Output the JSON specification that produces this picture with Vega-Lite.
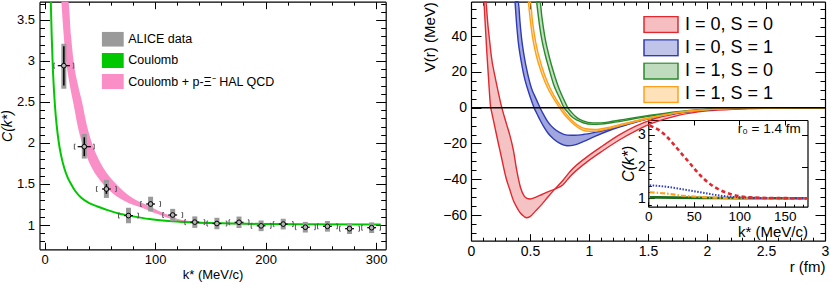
{
  "$schema": "https://vega.github.io/schema/vega-lite/v6.json",
  "width": 830,
  "height": 285,
  "padding": 0,
  "autosize": {"type": "none"},
  "background": "white",
  "config": {
    "view": {"stroke": null},
    "font": "Liberation Sans",
    "axis": {"grid": false, "domainColor": "#000", "domainWidth": 1.2, "tickColor": "#000", "tickWidth": 1, "labelColor": "#000", "titleColor": "#000", "titleFontWeight": "normal", "labelOverlap": false, "labelFlush": false, "labelBound": false, "zindex": 1, "labelFont": "Liberation Sans", "titleFont": "Liberation Sans"},
    "legend": {"labelFont": "Liberation Sans", "labelColor": "#000"}
  },
  "datasets": {
    "pink": [
      {"k": 15.3, "lo": 3.72, "hi": 3.723}, {"k": 17, "lo": 3.38, "hi": 3.723}, {"k": 19.5, "lo": 3.0, "hi": 3.723},
      {"k": 21.6, "lo": 2.806, "hi": 3.72}, {"k": 24, "lo": 2.625, "hi": 3.307}, {"k": 26.3, "lo": 2.474, "hi": 3.0},
      {"k": 30, "lo": 2.208, "hi": 2.726}, {"k": 34, "lo": 2.0, "hi": 2.5}, {"k": 38, "lo": 1.841, "hi": 2.236},
      {"k": 42.9, "lo": 1.696, "hi": 2.0}, {"k": 48, "lo": 1.584, "hi": 1.828}, {"k": 53, "lo": 1.5, "hi": 1.701},
      {"k": 58, "lo": 1.429, "hi": 1.603}, {"k": 64.8, "lo": 1.354, "hi": 1.5}, {"k": 72, "lo": 1.296, "hi": 1.405},
      {"k": 80, "lo": 1.247, "hi": 1.327}, {"k": 88, "lo": 1.21, "hi": 1.27}, {"k": 96, "lo": 1.165, "hi": 1.22},
      {"k": 103, "lo": 1.13, "hi": 1.175}, {"k": 110, "lo": 1.095, "hi": 1.135}, {"k": 123.5, "lo": 1.04, "hi": 1.065},
      {"k": 140, "lo": 1.02, "hi": 1.04}, {"k": 170, "lo": 1.01, "hi": 1.022}, {"k": 200, "lo": 1.005, "hi": 1.014},
      {"k": 250, "lo": 1.002, "hi": 1.009}, {"k": 304.2, "lo": 1.0, "hi": 1.006}
    ],
    "coul": [
      {"k": 5.7, "C": 3.72}, {"k": 6.5, "C": 3.31}, {"k": 7.5, "C": 2.93}, {"k": 8.5, "C": 2.66}, {"k": 9.5, "C": 2.445},
      {"k": 11, "C": 2.217}, {"k": 13, "C": 2.0}, {"k": 15, "C": 1.849}, {"k": 18, "C": 1.69}, {"k": 21, "C": 1.579},
      {"k": 24, "C": 1.5}, {"k": 28, "C": 1.411}, {"k": 33, "C": 1.335}, {"k": 40, "C": 1.271}, {"k": 48, "C": 1.226},
      {"k": 57, "C": 1.182}, {"k": 67, "C": 1.14}, {"k": 80, "C": 1.105}, {"k": 95, "C": 1.072}, {"k": 112, "C": 1.049},
      {"k": 130, "C": 1.034}, {"k": 150, "C": 1.024}, {"k": 175, "C": 1.017}, {"k": 200, "C": 1.012}, {"k": 240, "C": 1.008},
      {"k": 304.2, "C": 1.005}
    ],
    "alice": [
      {"k": 17.5, "C": 2.943, "slo": 2.70, "shi": 3.18, "ylo": 2.66, "yhi": 3.21, "xlo": 12, "xhi": 23, "blo": 8.5, "bhi": 26.5},
      {"k": 36, "C": 1.955, "slo": 1.84, "shi": 2.07, "ylo": 1.81, "yhi": 2.11, "xlo": 30, "xhi": 42, "blo": 27, "bhi": 45},
      {"k": 56, "C": 1.439, "slo": 1.38, "shi": 1.50, "ylo": 1.33, "yhi": 1.55, "xlo": 52, "xhi": 60, "blo": 47, "bhi": 65},
      {"k": 76, "C": 1.115, "slo": 1.085, "shi": 1.145, "ylo": 1.02, "yhi": 1.21, "xlo": 72, "xhi": 80, "blo": 67, "bhi": 85},
      {"k": 96, "C": 1.256, "slo": 1.225, "shi": 1.287, "ylo": 1.165, "yhi": 1.345, "xlo": 92, "xhi": 100, "blo": 87, "bhi": 105},
      {"k": 116, "C": 1.122, "slo": 1.097, "shi": 1.147, "ylo": 1.047, "yhi": 1.197, "xlo": 112, "xhi": 120, "blo": 107, "bhi": 125},
      {"k": 136, "C": 1.035, "slo": 1.015, "shi": 1.055, "ylo": 0.965, "yhi": 1.105, "xlo": 132, "xhi": 140, "blo": 127, "bhi": 145},
      {"k": 156, "C": 1.018, "slo": 1.0, "shi": 1.036, "ylo": 0.948, "yhi": 1.088, "xlo": 152, "xhi": 160, "blo": 147, "bhi": 165},
      {"k": 176, "C": 1.033, "slo": 1.015, "shi": 1.051, "ylo": 0.963, "yhi": 1.103, "xlo": 172, "xhi": 180, "blo": 167, "bhi": 185},
      {"k": 196, "C": 0.99, "slo": 0.975, "shi": 1.005, "ylo": 0.925, "yhi": 1.055, "xlo": 192, "xhi": 200, "blo": 187, "bhi": 205},
      {"k": 216, "C": 1.011, "slo": 0.996, "shi": 1.026, "ylo": 0.946, "yhi": 1.076, "xlo": 212, "xhi": 220, "blo": 207, "bhi": 225},
      {"k": 236, "C": 0.973, "slo": 0.958, "shi": 0.988, "ylo": 0.908, "yhi": 1.038, "xlo": 232, "xhi": 240, "blo": 227, "bhi": 245},
      {"k": 256, "C": 0.984, "slo": 0.969, "shi": 0.999, "ylo": 0.919, "yhi": 1.049, "xlo": 252, "xhi": 260, "blo": 247, "bhi": 265},
      {"k": 276, "C": 0.955, "slo": 0.94, "shi": 0.97, "ylo": 0.89, "yhi": 1.02, "xlo": 272, "xhi": 280, "blo": 267, "bhi": 285},
      {"k": 296, "C": 0.967, "slo": 0.952, "shi": 0.982, "ylo": 0.902, "yhi": 1.032, "xlo": 292, "xhi": 300, "blo": 287, "bhi": 304}
    ],
    "red": [
      {"r": 0.110, "a": 59.2, "b": 59.2}, {"r": 0.122, "a": 45, "b": 59.2}, {"r": 0.127, "a": 39.2, "b": 59.2},
      {"r": 0.135, "a": 30, "b": 52.9}, {"r": 0.145, "a": 20, "b": 45}, {"r": 0.15, "a": 15, "b": 42},
      {"r": 0.167, "a": 0, "b": 31.8}, {"r": 0.17, "a": -0.9, "b": 30}, {"r": 0.205, "a": -11.7, "b": 16.9},
      {"r": 0.232, "a": -20, "b": 8.4}, {"r": 0.251, "a": -25.6, "b": 2.7}, {"r": 0.30, "a": -40, "b": -8.9},
      {"r": 0.325, "a": -45, "b": -14.4}, {"r": 0.36, "a": -52, "b": -24}, {"r": 0.387, "a": -55.5, "b": -34.8},
      {"r": 0.42, "a": -59, "b": -44.7}, {"r": 0.45, "a": -60.8, "b": -49.2}, {"r": 0.47, "a": -61.5, "b": -50.5},
      {"r": 0.5, "a": -60.8, "b": -51}, {"r": 0.55, "a": -57.5, "b": -50}, {"r": 0.6, "a": -54, "b": -48.5},
      {"r": 0.65, "a": -50, "b": -47}, {"r": 0.71, "a": -45.5, "b": -45.5}, {"r": 0.78, "a": -40.5, "b": -43},
      {"r": 0.84, "a": -35.6, "b": -38.4}, {"r": 0.98, "a": -27.6, "b": -30.4}, {"r": 1.12, "a": -21.1, "b": -23.9},
      {"r": 1.26, "a": -15.1, "b": -17.9}, {"r": 1.40, "a": -10.2, "b": -12.8}, {"r": 1.52, "a": -6.9, "b": -9.1},
      {"r": 1.75, "a": -3.2, "b": -4.4}, {"r": 2.0, "a": -1.2, "b": -1.8}, {"r": 2.25, "a": -0.45, "b": -0.75},
      {"r": 2.5, "a": -0.15, "b": -0.3}, {"r": 3.0, "a": 0, "b": 0}
    ],
    "blue": [
      {"r": 0.373, "a": 59.2, "b": 59.2}, {"r": 0.385, "a": 48, "b": 59.2}, {"r": 0.401, "a": 36.5, "b": 59.2},
      {"r": 0.415, "a": 29.9, "b": 48}, {"r": 0.43, "a": 24.2, "b": 38}, {"r": 0.45, "a": 17.5, "b": 29},
      {"r": 0.48, "a": 10.4, "b": 19}, {"r": 0.52, "a": 2.5, "b": 9.5}, {"r": 0.534, "a": 0, "b": 7.45},
      {"r": 0.56, "a": -3.5, "b": 3.65}, {"r": 0.585, "a": -6.9, "b": 0}, {"r": 0.62, "a": -11, "b": -4.4},
      {"r": 0.65, "a": -14, "b": -7.75}, {"r": 0.7, "a": -17.5, "b": -11.5}, {"r": 0.75, "a": -19.8, "b": -13.8},
      {"r": 0.816, "a": -21.3, "b": -15.3}, {"r": 0.88, "a": -20.8, "b": -15.4}, {"r": 0.95, "a": -19, "b": -15.0},
      {"r": 1.05, "a": -16, "b": -13.8}, {"r": 1.15, "a": -13.3, "b": -12.3}, {"r": 1.25, "a": -11, "b": -10.6},
      {"r": 1.4, "a": -8, "b": -7.8}, {"r": 1.52, "a": -6, "b": -5.9}, {"r": 1.75, "a": -3, "b": -2.9},
      {"r": 2.0, "a": -1.2, "b": -1.15}, {"r": 2.25, "a": -0.5, "b": -0.45}, {"r": 2.5, "a": -0.2, "b": -0.18},
      {"r": 3.0, "a": 0, "b": 0}
    ],
    "org": [
      {"r": 0.486, "a": 59.2, "b": 59.2}, {"r": 0.504, "a": 48, "b": 59.2}, {"r": 0.52, "a": 40, "b": 48.8},
      {"r": 0.55, "a": 30, "b": 36}, {"r": 0.6, "a": 19, "b": 23}, {"r": 0.65, "a": 11, "b": 13.9},
      {"r": 0.7, "a": 5, "b": 7.2}, {"r": 0.75, "a": 0, "b": 1.8}, {"r": 0.8, "a": -4.5, "b": -2.9},
      {"r": 0.85, "a": -8, "b": -6.7}, {"r": 0.9, "a": -10.8, "b": -9.6}, {"r": 0.97, "a": -13, "b": -11.8},
      {"r": 1.05, "a": -13.2, "b": -12.2}, {"r": 1.15, "a": -12, "b": -11.2}, {"r": 1.25, "a": -10.3, "b": -9.6},
      {"r": 1.4, "a": -7.7, "b": -7.2}, {"r": 1.52, "a": -5.9, "b": -5.5}, {"r": 1.75, "a": -2.9, "b": -2.7},
      {"r": 2.0, "a": -1.15, "b": -1.05}, {"r": 2.25, "a": -0.45, "b": -0.4}, {"r": 2.5, "a": -0.18, "b": -0.15},
      {"r": 3.0, "a": 0, "b": 0}
    ],
    "grn": [
      {"r": 0.556, "a": 59.2, "b": 59.2}, {"r": 0.585, "a": 44, "b": 59.2}, {"r": 0.6, "a": 38, "b": 51},
      {"r": 0.627, "a": 30, "b": 39.2}, {"r": 0.66, "a": 22, "b": 29.3}, {"r": 0.7, "a": 13, "b": 19.8},
      {"r": 0.75, "a": 5.5, "b": 10}, {"r": 0.788, "a": 0, "b": 4.4}, {"r": 0.82, "a": -2.5, "b": 0},
      {"r": 0.85, "a": -4.8, "b": -2.5}, {"r": 0.9, "a": -7, "b": -5.7}, {"r": 0.95, "a": -8.4, "b": -7.4},
      {"r": 1.03, "a": -9.3, "b": -8.5}, {"r": 1.1, "a": -9.2, "b": -8.5}, {"r": 1.2, "a": -8.3, "b": -7.6},
      {"r": 1.3, "a": -7.2, "b": -6.5}, {"r": 1.4, "a": -6, "b": -5.4}, {"r": 1.52, "a": -4.7, "b": -4.2},
      {"r": 1.75, "a": -2.5, "b": -2.2}, {"r": 2.0, "a": -1.0, "b": -0.85}, {"r": 2.25, "a": -0.4, "b": -0.35},
      {"r": 2.5, "a": -0.15, "b": -0.12}, {"r": 3.0, "a": 0, "b": 0}
    ],
    "ired": [
      {"k": 1.5, "C": 3.29}, {"k": 12.9, "C": 3.13}, {"k": 23.8, "C": 2.84}, {"k": 34.8, "C": 2.47}, {"k": 45.8, "C": 2.10},
      {"k": 56.8, "C": 1.735}, {"k": 67.8, "C": 1.45}, {"k": 78.8, "C": 1.26}, {"k": 89.8, "C": 1.135}, {"k": 100.8, "C": 1.06},
      {"k": 111.8, "C": 1.03}, {"k": 125, "C": 1.015}, {"k": 150, "C": 1.005}, {"k": 175, "C": 1.0}
    ],
    "iblue": [
      {"k": 1.5, "C": 1.41}, {"k": 15, "C": 1.38}, {"k": 27.5, "C": 1.335}, {"k": 40, "C": 1.275}, {"k": 53, "C": 1.21},
      {"k": 65, "C": 1.15}, {"k": 75, "C": 1.10}, {"k": 88, "C": 1.055}, {"k": 100.8, "C": 1.03}, {"k": 125, "C": 1.01},
      {"k": 150, "C": 1.005}, {"k": 175, "C": 1.0}
    ],
    "iorg": [
      {"k": 1.5, "C": 1.19}, {"k": 20, "C": 1.15}, {"k": 38.5, "C": 1.08}, {"k": 55, "C": 1.045}, {"k": 75, "C": 1.02},
      {"k": 100, "C": 1.008}, {"k": 140, "C": 1.002}, {"k": 175, "C": 1.0}
    ],
    "igrn": [
      {"k": 1.5, "C": 1.03}, {"k": 30, "C": 1.022}, {"k": 60, "C": 1.012}, {"k": 100, "C": 1.004}, {"k": 175, "C": 1.0}
    ]
  },
  "layer": [
    {
      "layer": [
        {
          "data": {"name": "pink"},
          "mark": {"type": "area", "interpolate": "monotone", "opacity": 1},
          "encoding": {
            "x": {"field": "k", "type": "quantitative", "scale": {"domain": [0, 304.2], "range": [39.5, 385.7], "nice": false, "zero": false},
                  "axis": {"orient": "bottom", "offset": -35.7, "values": [0, 100, 200, 300], "format": "~f", "tickSize": -7, "labelPadding": 11.5, "labelFontSize": 13, "title": "k* (MeV/c)", "titleFontSize": 13, "titlePadding": 2}},
            "y": {"field": "lo", "type": "quantitative", "scale": {"domain": [0.7037, 3.723], "range": [249.3, 1.7], "nice": false, "zero": false, "clamp": true},
                  "axis": {"orient": "left", "offset": -39.5, "values": [1, 1.5, 2, 2.5, 3, 3.5], "format": "~f", "tickSize": -10, "labelPadding": 15, "labelFontSize": 13, "title": "C(k*)", "titleFontSize": 14, "titleFontStyle": "italic", "titlePadding": 2}},
            "y2": {"field": "hi"},
            "color": {"datum": "Coulomb + p-Ξ⁻ HAL QCD", "type": "nominal",
                      "scale": {"domain": ["ALICE data", "Coulomb", "Coulomb + p-Ξ⁻ HAL QCD"], "range": ["#9a9a9a", "#00c800", "#fa8ec6"]},
                      "legend": {"orient": "none", "legendX": 101.7, "legendY": 31.7, "title": null, "symbolType": "M-1,-0.68H1V0.68H-1Z", "symbolSize": 484, "symbolStrokeWidth": 0, "clipHeight": 15, "labelFontSize": 12.5, "labelOffset": 4.5, "rowPadding": 6.2, "padding": 0, "labelLimit": 300}}
          }
        },
        {
          "data": {"name": "coul"},
          "mark": {"type": "line", "interpolate": "monotone", "strokeWidth": 2},
          "encoding": {
            "x": {"field": "k", "type": "quantitative", "scale": {"domain": [0, 304.2], "range": [39.5, 385.7], "nice": false, "zero": false},
                  "axis": {"orient": "top", "offset": -1.7, "values": [0, 100, 200, 300], "tickSize": -7, "labels": false, "title": null}},
            "y": {"field": "C", "type": "quantitative", "scale": {"domain": [0.7037, 3.723], "range": [249.3, 1.7], "nice": false, "zero": false, "clamp": true},
                  "axis": {"orient": "right", "offset": -444.3, "values": [1, 1.5, 2, 2.5, 3, 3.5], "tickSize": -10, "labels": false, "title": null}},
            "color": {"datum": "Coulomb", "type": "nominal", "scale": {"domain": ["ALICE data", "Coulomb", "Coulomb + p-Ξ⁻ HAL QCD"], "range": ["#9a9a9a", "#00c800", "#fa8ec6"]}}
          }
        },
        {
          "data": {"name": "alice"},
          "mark": {"type": "bar", "size": 5, "opacity": 1},
          "encoding": {
            "x": {"field": "k", "type": "quantitative", "scale": {"domain": [0, 304.2], "range": [39.5, 385.7], "nice": false, "zero": false},
                  "axis": {"orient": "bottom", "offset": -35.7, "values": [20, 40, 60, 80, 120, 140, 160, 180, 220, 240, 260, 280], "tickSize": -3.5, "labels": false, "domain": false, "title": null}},
            "y": {"field": "ylo", "type": "quantitative", "scale": {"domain": [0.7037, 3.723], "range": [249.3, 1.7], "nice": false, "zero": false, "clamp": true},
                  "axis": {"orient": "left", "offset": -39.5, "values": [0.8, 0.9, 1.1, 1.2, 1.3, 1.4, 1.6, 1.7, 1.8, 1.9, 2.1, 2.2, 2.3, 2.4, 2.6, 2.7, 2.8, 2.9, 3.1, 3.2, 3.3, 3.4, 3.6, 3.7], "tickSize": -5, "labels": false, "domain": false, "title": null}},
            "y2": {"field": "yhi"},
            "color": {"datum": "ALICE data", "type": "nominal", "scale": {"domain": ["ALICE data", "Coulomb", "Coulomb + p-Ξ⁻ HAL QCD"], "range": ["#9a9a9a", "#00c800", "#fa8ec6"]}}
          }
        },
        {
          "data": {"name": "alice"},
          "mark": {"type": "rule", "color": "#000", "strokeWidth": 1.5},
          "encoding": {
            "x": {"field": "k", "type": "quantitative", "scale": {"domain": [0, 304.2], "range": [39.5, 385.7], "nice": false, "zero": false},
                  "axis": {"orient": "top", "offset": -1.7, "values": [20, 40, 60, 80, 120, 140, 160, 180, 220, 240, 260, 280], "tickSize": -3.5, "labels": false, "domain": false, "title": null}},
            "y": {"field": "slo", "type": "quantitative", "scale": {"domain": [0.7037, 3.723], "range": [249.3, 1.7], "nice": false, "zero": false, "clamp": true},
                  "axis": {"orient": "right", "offset": -444.3, "values": [0.8, 0.9, 1.1, 1.2, 1.3, 1.4, 1.6, 1.7, 1.8, 1.9, 2.1, 2.2, 2.3, 2.4, 2.6, 2.7, 2.8, 2.9, 3.1, 3.2, 3.3, 3.4, 3.6, 3.7], "tickSize": -5, "labels": false, "domain": false, "title": null}},
            "y2": {"field": "shi"}
          }
        },
        {
          "data": {"name": "alice"},
          "mark": {"type": "rule", "color": "#000", "strokeWidth": 1.2},
          "encoding": {
            "x": {"field": "xlo", "type": "quantitative", "scale": {"domain": [0, 304.2], "range": [39.5, 385.7], "nice": false, "zero": false}, "axis": null},
            "x2": {"field": "xhi"},
            "y": {"field": "C", "type": "quantitative", "scale": {"domain": [0.7037, 3.723], "range": [249.3, 1.7], "nice": false, "zero": false, "clamp": true}, "axis": null}
          }
        },
        {
          "data": {"name": "alice"},
          "mark": {"type": "point", "shape": "M0.45,-1L0,-1L0,1L0.45,1", "filled": false, "stroke": "#555", "strokeWidth": 1, "size": 25, "opacity": 1},
          "encoding": {
            "x": {"field": "blo", "type": "quantitative", "scale": {"domain": [0, 304.2], "range": [39.5, 385.7], "nice": false, "zero": false}, "axis": null},
            "y": {"field": "C", "type": "quantitative", "scale": {"domain": [0.7037, 3.723], "range": [249.3, 1.7], "nice": false, "zero": false, "clamp": true}, "axis": null}
          }
        },
        {
          "data": {"name": "alice"},
          "mark": {"type": "point", "shape": "M-0.45,-1L0,-1L0,1L-0.45,1", "filled": false, "stroke": "#555", "strokeWidth": 1, "size": 25, "opacity": 1},
          "encoding": {
            "x": {"field": "bhi", "type": "quantitative", "scale": {"domain": [0, 304.2], "range": [39.5, 385.7], "nice": false, "zero": false}, "axis": null},
            "y": {"field": "C", "type": "quantitative", "scale": {"domain": [0.7037, 3.723], "range": [249.3, 1.7], "nice": false, "zero": false, "clamp": true}, "axis": null}
          }
        },
        {
          "data": {"name": "alice"},
          "mark": {"type": "point", "shape": "circle", "filled": true, "fill": "#b5b5b5", "stroke": "#000", "strokeWidth": 1, "size": 22, "opacity": 1},
          "encoding": {
            "x": {"field": "k", "type": "quantitative", "scale": {"domain": [0, 304.2], "range": [39.5, 385.7], "nice": false, "zero": false}, "axis": null},
            "y": {"field": "C", "type": "quantitative", "scale": {"domain": [0.7037, 3.723], "range": [249.3, 1.7], "nice": false, "zero": false, "clamp": true}, "axis": null}
          }
        }
      ],
      "resolve": {"scale": {"x": "shared", "y": "shared", "color": "shared"}, "axis": {"x": "independent", "y": "independent"}}
    },
    {
      "layer": [
        {
          "data": {"name": "red"},
          "mark": {"type": "area", "interpolate": "monotone", "fillOpacity": 0.28},
          "encoding": {
            "x": {"field": "r", "type": "quantitative", "scale": {"domain": [0, 3], "range": [471, 825], "nice": false, "zero": false},
                  "axis": {"orient": "bottom", "offset": -44.3, "values": [0, 0.5, 1, 1.5, 2, 2.5, 3], "format": "~f", "tickSize": -7, "labelPadding": 11, "labelFontSize": 14, "title": "r (fm)", "titleAnchor": "end", "titleFontSize": 15, "titlePadding": 1}},
            "y": {"field": "a", "type": "quantitative", "scale": {"domain": [-74.3, 59.2], "range": [240.7, 1.7], "nice": false, "zero": false, "clamp": true},
                  "axis": {"orient": "left", "offset": -471, "values": [-60, -40, -20, 0, 20, 40], "format": "~f", "tickSize": -10, "labelPadding": 14.5, "labelFontSize": 14, "title": "V(r) (MeV)", "titleAnchor": "end", "titleFontSize": 15, "titlePadding": 5}},
            "y2": {"field": "b"},
            "color": {"datum": "I = 0, S = 0", "type": "nominal",
                      "scale": {"domain": ["I = 0, S = 0", "I = 0, S = 1", "I = 1, S = 0", "I = 1, S = 1"], "range": ["#e0282e", "#2e3bb5", "#2a8a2a", "#ffa01a"]},
                      "legend": {"orient": "none", "legendX": 643, "legendY": 16, "title": null, "symbolType": "M-1,-0.47H1V0.47H-1Z", "symbolSize": 1156, "clipHeight": 17, "labelFontSize": 18, "labelOffset": 6, "rowPadding": 4.3, "padding": 0, "labelLimit": 300,
                                 "encoding": {"symbols": {"stroke": {"value": {"expr": "datum.value === 'I = 0, S = 0' ? '#e0282e' : datum.value === 'I = 0, S = 1' ? '#2e3bb5' : datum.value === 'I = 1, S = 0' ? '#2a8a2a' : '#ffa01a'"}}, "strokeWidth": {"value": 1.5}, "fillOpacity": {"value": 0.3}}}}}
          }
        },
        {
          "data": {"name": "blue"},
          "mark": {"type": "area", "interpolate": "monotone", "fillOpacity": 0.45},
          "encoding": {
            "x": {"field": "r", "type": "quantitative", "scale": {"domain": [0, 3], "range": [471, 825], "nice": false, "zero": false},
                  "axis": {"orient": "top", "offset": -1.7, "values": [0, 0.5, 1, 1.5, 2, 2.5, 3], "tickSize": -7, "labels": false, "title": null}},
            "y": {"field": "a", "type": "quantitative", "scale": {"domain": [-74.3, 59.2], "range": [240.7, 1.7], "nice": false, "zero": false, "clamp": true},
                  "axis": {"orient": "right", "offset": -5, "values": [-60, -40, -20, 0, 20, 40], "tickSize": -10, "labels": false, "title": null}},
            "y2": {"field": "b"},
            "color": {"datum": "I = 0, S = 1", "type": "nominal", "scale": {"domain": ["I = 0, S = 0", "I = 0, S = 1", "I = 1, S = 0", "I = 1, S = 1"], "range": ["#e0282e", "#2e3bb5", "#2a8a2a", "#ffa01a"]}}
          }
        },
        {
          "data": {"name": "grn"},
          "mark": {"type": "area", "interpolate": "monotone", "fillOpacity": 0.28},
          "encoding": {
            "x": {"field": "r", "type": "quantitative", "scale": {"domain": [0, 3], "range": [471, 825], "nice": false, "zero": false},
                  "axis": {"orient": "bottom", "offset": -44.3, "values": [0.1, 0.2, 0.3, 0.4, 0.6, 0.7, 0.8, 0.9, 1.1, 1.2, 1.3, 1.4, 1.6, 1.7, 1.8, 1.9, 2.1, 2.2, 2.3, 2.4, 2.6, 2.7, 2.8, 2.9], "tickSize": -3.5, "labels": false, "domain": false, "title": null}},
            "y": {"field": "a", "type": "quantitative", "scale": {"domain": [-74.3, 59.2], "range": [240.7, 1.7], "nice": false, "zero": false, "clamp": true},
                  "axis": {"orient": "left", "offset": -471, "values": [-70, -65, -55, -50, -45, -35, -30, -25, -15, -10, -5, 5, 10, 15, 25, 30, 35, 45, 50, 55], "tickSize": -5, "labels": false, "domain": false, "title": null}},
            "y2": {"field": "b"},
            "color": {"datum": "I = 1, S = 0", "type": "nominal", "scale": {"domain": ["I = 0, S = 0", "I = 0, S = 1", "I = 1, S = 0", "I = 1, S = 1"], "range": ["#e0282e", "#2e3bb5", "#2a8a2a", "#ffa01a"]}}
          }
        },
        {
          "data": {"name": "org"},
          "mark": {"type": "area", "interpolate": "monotone", "fillOpacity": 0.28},
          "encoding": {
            "x": {"field": "r", "type": "quantitative", "scale": {"domain": [0, 3], "range": [471, 825], "nice": false, "zero": false},
                  "axis": {"orient": "top", "offset": -1.7, "values": [0.1, 0.2, 0.3, 0.4, 0.6, 0.7, 0.8, 0.9, 1.1, 1.2, 1.3, 1.4, 1.6, 1.7, 1.8, 1.9, 2.1, 2.2, 2.3, 2.4, 2.6, 2.7, 2.8, 2.9], "tickSize": -3.5, "labels": false, "domain": false, "title": null}},
            "y": {"field": "a", "type": "quantitative", "scale": {"domain": [-74.3, 59.2], "range": [240.7, 1.7], "nice": false, "zero": false, "clamp": true},
                  "axis": {"orient": "right", "offset": -5, "values": [-70, -65, -55, -50, -45, -35, -30, -25, -15, -10, -5, 5, 10, 15, 25, 30, 35, 45, 50, 55], "tickSize": -5, "labels": false, "domain": false, "title": null}},
            "y2": {"field": "b"},
            "color": {"datum": "I = 1, S = 1", "type": "nominal", "scale": {"domain": ["I = 0, S = 0", "I = 0, S = 1", "I = 1, S = 0", "I = 1, S = 1"], "range": ["#e0282e", "#2e3bb5", "#2a8a2a", "#ffa01a"]}}
          }
        },
        {"data": {"name": "red"}, "mark": {"type": "line", "interpolate": "monotone", "stroke": "#e0282e", "strokeWidth": 1.4},
         "encoding": {"x": {"field": "r", "type": "quantitative", "scale": {"domain": [0, 3], "range": [471, 825], "nice": false, "zero": false}, "axis": null},
                      "y": {"field": "a", "type": "quantitative", "scale": {"domain": [-74.3, 59.2], "range": [240.7, 1.7], "nice": false, "zero": false, "clamp": true}, "axis": null}}},
        {"data": {"name": "red"}, "mark": {"type": "line", "interpolate": "monotone", "stroke": "#e0282e", "strokeWidth": 1.4},
         "encoding": {"x": {"field": "r", "type": "quantitative", "scale": {"domain": [0, 3], "range": [471, 825], "nice": false, "zero": false}, "axis": null},
                      "y": {"field": "b", "type": "quantitative", "scale": {"domain": [-74.3, 59.2], "range": [240.7, 1.7], "nice": false, "zero": false, "clamp": true}, "axis": null}}},
        {"data": {"name": "blue"}, "mark": {"type": "line", "interpolate": "monotone", "stroke": "#2e3bb5", "strokeWidth": 1.4},
         "encoding": {"x": {"field": "r", "type": "quantitative", "scale": {"domain": [0, 3], "range": [471, 825], "nice": false, "zero": false}, "axis": null},
                      "y": {"field": "a", "type": "quantitative", "scale": {"domain": [-74.3, 59.2], "range": [240.7, 1.7], "nice": false, "zero": false, "clamp": true}, "axis": null}}},
        {"data": {"name": "blue"}, "mark": {"type": "line", "interpolate": "monotone", "stroke": "#2e3bb5", "strokeWidth": 1.4},
         "encoding": {"x": {"field": "r", "type": "quantitative", "scale": {"domain": [0, 3], "range": [471, 825], "nice": false, "zero": false}, "axis": null},
                      "y": {"field": "b", "type": "quantitative", "scale": {"domain": [-74.3, 59.2], "range": [240.7, 1.7], "nice": false, "zero": false, "clamp": true}, "axis": null}}},
        {"data": {"name": "grn"}, "mark": {"type": "line", "interpolate": "monotone", "stroke": "#2a8a2a", "strokeWidth": 1.4},
         "encoding": {"x": {"field": "r", "type": "quantitative", "scale": {"domain": [0, 3], "range": [471, 825], "nice": false, "zero": false}, "axis": null},
                      "y": {"field": "a", "type": "quantitative", "scale": {"domain": [-74.3, 59.2], "range": [240.7, 1.7], "nice": false, "zero": false, "clamp": true}, "axis": null}}},
        {"data": {"name": "grn"}, "mark": {"type": "line", "interpolate": "monotone", "stroke": "#2a8a2a", "strokeWidth": 1.4},
         "encoding": {"x": {"field": "r", "type": "quantitative", "scale": {"domain": [0, 3], "range": [471, 825], "nice": false, "zero": false}, "axis": null},
                      "y": {"field": "b", "type": "quantitative", "scale": {"domain": [-74.3, 59.2], "range": [240.7, 1.7], "nice": false, "zero": false, "clamp": true}, "axis": null}}},
        {"data": {"name": "org"}, "mark": {"type": "line", "interpolate": "monotone", "stroke": "#ffa01a", "strokeWidth": 1.4},
         "encoding": {"x": {"field": "r", "type": "quantitative", "scale": {"domain": [0, 3], "range": [471, 825], "nice": false, "zero": false}, "axis": null},
                      "y": {"field": "a", "type": "quantitative", "scale": {"domain": [-74.3, 59.2], "range": [240.7, 1.7], "nice": false, "zero": false, "clamp": true}, "axis": null}}},
        {"data": {"name": "org"}, "mark": {"type": "line", "interpolate": "monotone", "stroke": "#ffa01a", "strokeWidth": 1.4},
         "encoding": {"x": {"field": "r", "type": "quantitative", "scale": {"domain": [0, 3], "range": [471, 825], "nice": false, "zero": false}, "axis": null},
                      "y": {"field": "b", "type": "quantitative", "scale": {"domain": [-74.3, 59.2], "range": [240.7, 1.7], "nice": false, "zero": false, "clamp": true}, "axis": null}}},
        {"data": {"values": [{}]}, "mark": {"type": "rule", "color": "#000", "strokeWidth": 1.5},
         "encoding": {"x": {"datum": 0, "type": "quantitative", "scale": {"domain": [0, 3], "range": [471, 825], "nice": false, "zero": false}, "axis": null},
                      "x2": {"datum": 3},
                      "y": {"datum": 0, "type": "quantitative", "scale": {"domain": [-74.3, 59.2], "range": [240.7, 1.7], "nice": false, "zero": false, "clamp": true}, "axis": null}}}
      ],
      "resolve": {"scale": {"x": "shared", "y": "shared", "color": "shared"}, "axis": {"x": "independent", "y": "independent"}}
    },
    {
      "layer": [
        {"data": {"name": "igrn"}, "mark": {"type": "line", "interpolate": "monotone", "stroke": "#1d6b1d", "strokeWidth": 2.6},
         "encoding": {"x": {"field": "k", "type": "quantitative", "scale": {"domain": [0, 175], "range": [648.3, 807.5], "nice": false, "zero": false},
                            "axis": {"orient": "top", "offset": -120, "values": [0, 50, 100, 150], "tickSize": -5, "labels": false, "title": null}},
                      "y": {"field": "C", "type": "quantitative", "scale": {"domain": [0.735, 3.47], "range": [206.7, 120], "nice": false, "zero": false},
                            "axis": {"orient": "right", "offset": -22.5, "values": [1, 2, 3], "tickSize": -6, "labels": false, "title": null}}}},
        {"data": {"name": "iorg"}, "mark": {"type": "line", "interpolate": "monotone", "stroke": "#ffa01a", "strokeWidth": 2.2, "strokeDash": [5, 2, 1.5, 2]},
         "encoding": {"x": {"field": "k", "type": "quantitative", "scale": {"domain": [0, 175], "range": [648.3, 807.5], "nice": false, "zero": false},
                            "axis": {"orient": "bottom", "offset": -78.3, "values": [10, 20, 30, 40, 60, 70, 80, 90, 110, 120, 130, 140, 160, 170], "tickSize": -2.5, "labels": false, "domain": false, "title": null}},
                      "y": {"field": "C", "type": "quantitative", "scale": {"domain": [0.735, 3.47], "range": [206.7, 120], "nice": false, "zero": false},
                            "axis": {"orient": "left", "offset": -648.3, "values": [0.8, 1.2, 1.4, 1.6, 1.8, 2.2, 2.4, 2.6, 2.8, 3.2, 3.4], "tickSize": -3, "labels": false, "domain": false, "title": null}}}},
        {"data": {"name": "iblue"}, "mark": {"type": "line", "interpolate": "monotone", "stroke": "#3440c0", "strokeWidth": 2, "strokeDash": [1.5, 1.5]},
         "encoding": {"x": {"field": "k", "type": "quantitative", "scale": {"domain": [0, 175], "range": [648.3, 807.5], "nice": false, "zero": false}, "axis": null},
                      "y": {"field": "C", "type": "quantitative", "scale": {"domain": [0.735, 3.47], "range": [206.7, 120], "nice": false, "zero": false}, "axis": null}}},
        {"data": {"name": "ired"}, "mark": {"type": "line", "interpolate": "monotone", "stroke": "#e0282e", "strokeWidth": 2.6, "strokeDash": [4, 3]},
         "encoding": {"x": {"field": "k", "type": "quantitative", "scale": {"domain": [0, 175], "range": [648.3, 807.5], "nice": false, "zero": false},
                            "axis": {"orient": "bottom", "offset": -78.3, "values": [0, 50, 100, 150], "format": "~f", "tickSize": -5, "labelPadding": 8, "labelFontSize": 13.5, "title": "k* (MeV/c)", "titleAnchor": "end", "titleFontSize": 15, "titlePadding": 1}},
                      "y": {"field": "C", "type": "quantitative", "scale": {"domain": [0.735, 3.47], "range": [206.7, 120], "nice": false, "zero": false},
                            "axis": {"orient": "left", "offset": -648.3, "values": [1, 2, 3], "format": "~f", "tickSize": -6, "labelPadding": 9, "labelFontSize": 14, "title": "C(k*)", "titleFontSize": 16, "titleFontStyle": "italic", "titlePadding": 1}}}},
        {"data": {"values": [{}]}, "mark": {"type": "text", "text": "r₀ = 1.4 fm", "align": "right", "baseline": "alphabetic", "fontSize": 13.5, "color": "#000"},
         "encoding": {"x": {"datum": 167.5, "type": "quantitative", "scale": {"domain": [0, 175], "range": [648.3, 807.5], "nice": false, "zero": false}, "axis": null},
                      "y": {"datum": 3.05, "type": "quantitative", "scale": {"domain": [0.735, 3.47], "range": [206.7, 120], "nice": false, "zero": false}, "axis": null}}}
      ],
      "resolve": {"scale": {"x": "shared", "y": "shared"}, "axis": {"x": "independent", "y": "independent"}}
    }
  ],
  "resolve": {"scale": {"x": "independent", "y": "independent", "color": "independent"}, "axis": {"x": "independent", "y": "independent"}, "legend": {"color": "independent"}}
}
